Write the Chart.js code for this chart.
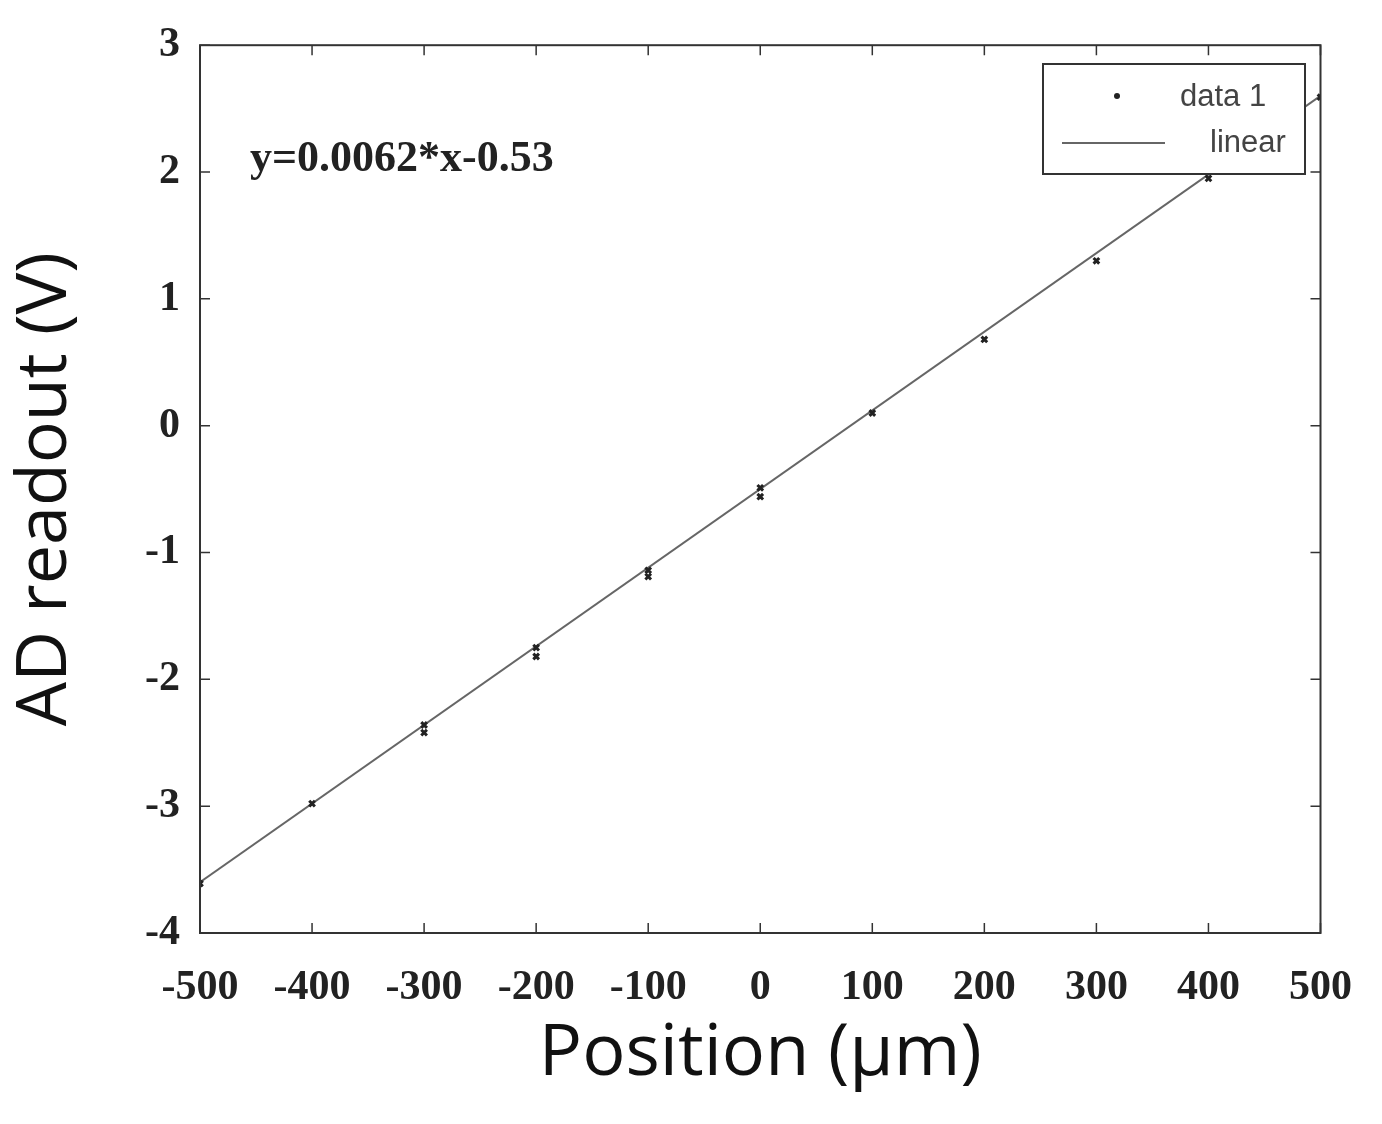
<!DOCTYPE html><html><head><script src="https://cdn.jsdelivr.net/npm/chart.js@4"></script>
<style>html,body{margin:0;background:#fff}#w{width:1382px;height:1124px}</style></head><body><div id="w"><canvas id="c"></canvas></div>
<script>
const positions=[-500,-400,-300,-300,-200,-200,-100,-100,0,0,100,200,300,400,500];
const readouts=[-3.61,-2.98,-2.36,-2.42,-1.75,-1.82,-1.14,-1.19,-0.49,-0.56,0.10,0.68,1.30,1.95,2.59];
const fitX=[-500,500];
const fitY=[-3.6,2.6];
const xTicks=[-500,-400,-300,-200,-100,0,100,200,300,400,500];
const yTicks=[-4,-3,-2,-1,0,1,2,3];
const deco={id:'deco',afterDraw(ch){const c=ch.ctx,a=ch.chartArea,xs=ch.scales.x,ys=ch.scales.y;c.save();
c.strokeStyle='#333';c.lineWidth=2;c.strokeRect(a.left,a.top,a.right-a.left,a.bottom-a.top);c.lineWidth=1.5;
xTicks.forEach(v=>{const p=xs.getPixelForValue(v);c.beginPath();c.moveTo(p,a.bottom);c.lineTo(p,a.bottom-10);c.moveTo(p,a.top);c.lineTo(p,a.top+10);c.stroke();});
yTicks.forEach(v=>{const p=ys.getPixelForValue(v);c.beginPath();c.moveTo(a.left,p);c.lineTo(a.left+10,p);c.moveTo(a.right,p);c.lineTo(a.right-10,p);c.stroke();});
c.fillStyle='#222';c.font='bold 44px "Liberation Serif"';c.textBaseline='middle';c.fillText('y=0.0062*x-0.53',250,160);
c.fillStyle='#fff';c.fillRect(1043,64,262,110);c.strokeStyle='#333';c.lineWidth=2;c.strokeRect(1043,64,262,110);
c.fillStyle='#222';c.beginPath();c.arc(1117,96,3,0,7);c.fill();
c.strokeStyle='#666';c.lineWidth=2;c.beginPath();c.moveTo(1062,143);c.lineTo(1165,143);c.stroke();
c.font='31px "Liberation Sans"';c.fillStyle='#444';c.fillText('data 1',1180,97);c.fillText('linear',1210,143);c.restore();}};
new Chart(document.getElementById('c'),{type:'scatter',data:{datasets:[
{data:positions.map((x,i)=>({x,y:readouts[i]})),pointRadius:4,pointStyle:'crossRot',borderColor:'#222',backgroundColor:'#222',borderWidth:3,showLine:false},
{data:fitX.map((x,i)=>({x,y:fitY[i]})),showLine:true,pointRadius:0,borderColor:'#666',borderWidth:2}]},
options:{responsive:true,maintainAspectRatio:false,animation:false,events:[],layout:{padding:{top:45,right:48,left:0,bottom:22}},
plugins:{legend:{display:false},tooltip:{enabled:false}},
scales:{x:{type:'linear',min:-500,max:500,afterFit(s){s.height=169},afterBuildTicks(s){s.ticks=xTicks.map(v=>({value:v}))},
grid:{display:false,drawTicks:false},border:{display:false},ticks:{padding:30,color:'#222',font:{family:'Liberation Serif',weight:'bold',size:42}},
title:{display:true,text:'Position (μm)',color:'#111',font:{family:'Open Sans',size:72},padding:{top:0}}},
y:{min:-4,max:3,afterFit(s){s.width=200},afterBuildTicks(s){s.ticks=yTicks.map(v=>({value:v}))},
grid:{display:false,drawTicks:false},border:{display:false},ticks:{padding:20,color:'#222',font:{family:'Liberation Serif',weight:'bold',size:42}},
title:{display:true,text:'AD readout (V)',color:'#111',font:{family:'Open Sans',size:70},padding:{bottom:14}}}}},
plugins:[deco]});
</script></body></html>
